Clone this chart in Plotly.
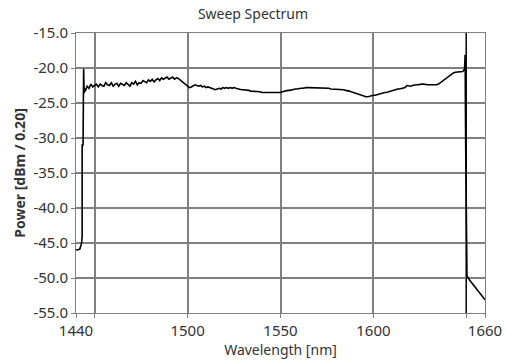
import plotly.graph_objects as go

# ---- data ----
rise_wl = [1440.0, 1441.0, 1442.0, 1442.6, 1443.0, 1443.3, 1443.3, 1443.8, 1444.1, 1444.4, 1444.7]
rise_db = [-46.0, -46.0, -45.9, -45.4, -45.0, -44.0, -31.0, -31.0, -20.1, -23.6, -22.9]

main_wl = list(range(1445, 1650))
main_db = [
    -23.3, -22.6, -22.9, -22.3, -22.7, -22.5, -22.3, -22.7, -22.3, -22.5,
    -22.6, -22.1, -22.4, -22.5, -22.1, -22.6, -22.3, -22.2, -22.6, -22.2,
    -22.4, -22.5, -22.1, -22.3, -22.6, -22.1, -22.3, -21.9, -22.4, -22.1,
    -22.2, -21.8, -22.0, -22.1, -21.7, -21.9, -21.6, -22.0, -21.7, -21.5,
    -21.8, -21.4, -21.6, -21.5, -21.3, -21.6, -21.4, -21.3, -21.6, -21.4,
    -21.5, -21.7, -21.9, -22.1, -22.4, -22.6, -22.8, -22.7, -22.5, -22.4,
    -22.5, -22.6, -22.5, -22.7, -22.6, -22.8, -22.7, -22.8, -23.0, -23.1,
    -23.1, -23.0, -22.9, -23.0, -22.8, -22.9, -22.8, -22.9, -22.8, -22.9,
    -22.8, -22.9, -23.0, -23.0, -23.1, -23.1, -23.1, -23.2, -23.2, -23.3,
    -23.3, -23.3, -23.4, -23.4, -23.4, -23.5, -23.5, -23.5, -23.6, -23.6,
    -23.6, -23.6, -23.6, -23.6, -23.5, -23.5, -23.4, -23.3, -23.3, -23.2,
    -23.2, -23.1, -23.1, -23.0, -23.0, -22.9, -22.9, -22.9, -22.8, -22.8,
    -22.8, -22.8, -22.8, -22.8, -22.8, -22.9, -22.8, -22.9, -22.9, -22.9,
    -22.9, -22.9, -23.0, -23.0, -23.0, -23.0, -23.0, -23.0, -23.1, -23.1,
    -23.2, -23.2, -23.3, -23.4, -23.5, -23.6, -23.7, -23.8, -23.9, -24.0,
    -24.1, -24.1, -24.1, -24.0, -24.0, -23.9, -23.9, -23.8, -23.7, -23.7,
    -23.6, -23.5, -23.5, -23.4, -23.3, -23.2, -23.2, -23.1, -23.0, -23.0,
    -22.9, -22.8, -22.8, -22.5, -22.6, -22.6, -22.5, -22.4, -22.4, -22.4,
    -22.3, -22.3, -22.3, -22.4, -22.4, -22.4, -22.4, -22.5, -22.5, -22.4,
    -22.3, -22.1, -21.8, -21.6, -21.4, -21.2, -21.0, -20.8, -20.7, -20.6,
    -20.6, -20.5, -20.5, -20.5, -20.2,
]

fall_wl = [1649.3, 1649.6, 1649.9, 1650.3, 1651.7, 1653.5, 1655.2, 1657.5, 1660.0]
fall_db = [-18.1, -31.0, -48.5, -49.7, -50.3, -50.9, -51.5, -52.3, -53.1]

cursor_wl = 1650

x_tick_vals = [1440, 1500, 1550, 1600, 1660]
x_tick_text = ["1440", "1500", "1550", "1600", "1660"]
x_grid_vals = [1450, 1500, 1550, 1600, 1650]
y_tick_vals = [-15, -20, -25, -30, -35, -40, -45, -50, -55]
y_tick_text = ["-15.0", "-20.0", "-25.0", "-30.0", "-35.0", "-40.0", "-45.0", "-50.0", "-55.0"]

wl = rise_wl + main_wl + fall_wl
db = rise_db + main_db + fall_db

FONT = "Noto Sans"
GRID = "#808080"

fig = go.Figure()
fig.add_trace(go.Scatter(x=wl, y=db, mode="lines",
                         line=dict(color="black", width=1.6), showlegend=False))

fig.add_shape(type="line", x0=cursor_wl, x1=cursor_wl, y0=0, y1=1,
              xref="x", yref="paper", line=dict(color="black", width=1), layer="above")

fig.update_layout(
    width=506, height=360,
    margin=dict(l=76, r=21, t=33, b=47),
    paper_bgcolor="white", plot_bgcolor="white",
    font=dict(family=FONT, size=15, color="#333333"),
    title=dict(text="Sweep Spectrum", x=0.5, xanchor="center", y=(360 - 14) / 360,
               yanchor="middle", font=dict(size=14, color="#333333")),
)

fig.update_xaxes(
    range=[1440, 1660], tickmode="array", tickvals=x_tick_vals, ticktext=x_tick_text,
    showgrid=False, ticks="outside", ticklen=4, tickcolor=GRID, automargin=False,
    showline=True, linecolor=GRID, linewidth=1, mirror=True, zeroline=False,
    minor=dict(tickmode="array", tickvals=x_grid_vals, showgrid=True,
               gridcolor=GRID, gridwidth=1.5, ticks="outside", ticklen=4, tickcolor=GRID),
    title=dict(text="Wavelength [nm]", font=dict(size=14, color="#333333"), standoff=4),
)
fig.update_yaxes(
    range=[-55, -15], tickmode="array", tickvals=y_tick_vals, ticktext=y_tick_text,
    showgrid=True, gridcolor=GRID, gridwidth=1.5, ticks="outside", ticklen=4, tickcolor=GRID,
    showline=True, linecolor=GRID, linewidth=1, mirror=True, zeroline=False, automargin=False,
    title=dict(text="<b>Power [dBm / 0.20]</b>", font=dict(size=14, color="#333333"), standoff=4),
)

fig.write_html(
    "out.html",
    config={"displayModeBar": False},
    post_script="document.body.style.margin='0';document.body.style.overflow='hidden';",
)
